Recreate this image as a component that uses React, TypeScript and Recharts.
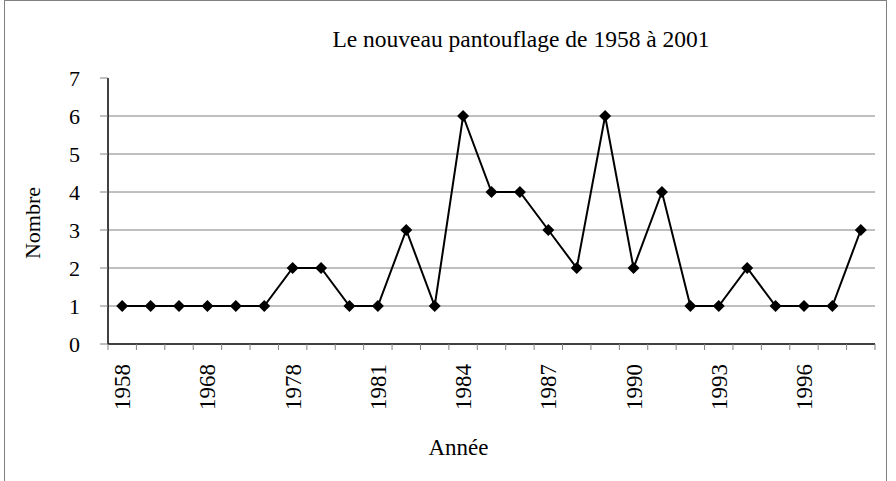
import { LineChart, Line, XAxis, YAxis, ReferenceLine, Label } from "recharts";

const YEARS = [
  "1958", "1962", "1965", "1968", "1971", "1975", "1978", "1979", "1980",
  "1981", "1982", "1983", "1984", "1985", "1986", "1987", "1988", "1989",
  "1990", "1991", "1992", "1993", "1994", "1995", "1996", "1997", "1998",
];
const COUNTS = [1, 1, 1, 1, 1, 1, 2, 2, 1, 1, 3, 1, 6, 4, 4, 3, 2, 6, 2, 4, 1, 1, 2, 1, 1, 1, 3];
const Y_TICKS = [0, 1, 2, 3, 4, 5, 6, 7];
const GRID_VALUES = [1, 2, 3, 4, 5, 6];

const W = 896;
const H = 481;
const MARGIN = { top: 78, right: 21, left: 0, bottom: 0 };
const Y_AXIS_W = 108;
const X_AXIS_H = 137;
const FONT = "Liberation Serif";
const FS = 22;

const data = YEARS.map((year, i) => ({ year, nombre: COUNTS[i] }));
const band = (W - MARGIN.right - Y_AXIS_W) / YEARS.length;

const Diamond = (props: any) => {
  const { cx, cy } = props;
  if (cx == null || cy == null) return null;
  const r = 6;
  return (
    <polygon
      points={`${cx},${cy - r} ${cx + r},${cy} ${cx},${cy + r} ${cx - r},${cy}`}
      fill="#000"
    />
  );
};

const YearTick = (props: any) => {
  const { x, y, payload, index } = props;
  const isLast = index === YEARS.length - 1;
  const ty = y + 20;
  return (
    <g>
      <line x1={x - band / 2} y1={y} x2={x - band / 2} y2={y + 6} stroke="#808080" />
      {isLast && <line x1={x + band / 2} y1={y} x2={x + band / 2} y2={y + 6} stroke="#808080" />}
      {index % 3 === 0 && (
        <text
          x={x}
          y={ty}
          dy="0.35em"
          transform={`rotate(-90 ${x} ${ty})`}
          textAnchor="end"
          style={{ fontFamily: FONT, fontSize: 23 }}
          fill="#000"
        >
          {payload.value}
        </text>
      )}
    </g>
  );
};

const NumTick = (props: any) => {
  const { x, y, payload } = props;
  return (
    <text x={x} y={y} dy="0.35em" textAnchor="end" style={{ fontFamily: FONT, fontSize: FS }} fill="#000">
      {payload.value}
    </text>
  );
};

export default function App() {
  return (
    <div
      style={{
        position: "absolute",
        left: 0,
        top: 0,
        width: W,
        height: H,
        overflow: "hidden",
        background: "#fff",
        fontFamily: FONT,
      }}
    >
      <div
        style={{
          position: "absolute",
          left: 4,
          top: 0,
          width: 883,
          height: 520,
          border: "1px solid #808080",
          boxSizing: "border-box",
        }}
      />
      <div
        style={{
          position: "absolute",
          left: 271,
          top: 26,
          width: 500,
          textAlign: "center",
          fontFamily: FONT,
          fontSize: 23.5,
          lineHeight: "26px",
          color: "#000",
        }}
      >
        Le nouveau pantouflage de 1958 à 2001
      </div>
      <div style={{ position: "absolute", left: 0, top: 0 }}>
        <LineChart width={W} height={H} data={data} margin={MARGIN}>
          {GRID_VALUES.map((v) => (
            <ReferenceLine key={v} y={v} stroke="#808080" strokeWidth={1} />
          ))}
          <XAxis
            dataKey="year"
            interval={0}
            height={X_AXIS_H}
            padding={{ left: band / 2, right: band / 2 }}
            tickLine={false}
            tickSize={0}
            tickMargin={0}
            axisLine={{ stroke: "#000", strokeWidth: 1.5 }}
            tick={<YearTick />}
          >
            <Label
              content={({ viewBox }: any) => (
                <text
                  x={viewBox.x + viewBox.width / 2 - 33}
                  y={viewBox.y + 111}
                  textAnchor="middle"
                  style={{ fontFamily: FONT, fontSize: 23 }}
                  fill="#000"
                >
                  Année
                </text>
              )}
            />
          </XAxis>
          <YAxis
            width={Y_AXIS_W}
            domain={[0, 7]}
            ticks={Y_TICKS}
            interval={0}
            tickSize={8}
            tickMargin={20}
            tickLine={{ stroke: "#808080" }}
            axisLine={{ stroke: "#000", strokeWidth: 1.5 }}
            tick={<NumTick />}
          >
            <Label
              content={({ viewBox }: any) => {
                const cx = viewBox.x + 32;
                const cy = viewBox.y + viewBox.height / 2 + 12;
                return (
                  <text
                    x={cx}
                    y={cy}
                    dy="0.35em"
                    transform={`rotate(-90 ${cx} ${cy})`}
                    textAnchor="middle"
                    style={{ fontFamily: FONT, fontSize: FS }}
                    fill="#000"
                  >
                    Nombre
                  </text>
                );
              }}
            />
          </YAxis>
          <Line
            type="linear"
            dataKey="nombre"
            stroke="#000"
            strokeWidth={2}
            dot={<Diamond />}
            activeDot={false}
            isAnimationActive={false}
          />
        </LineChart>
      </div>
    </div>
  );
}
